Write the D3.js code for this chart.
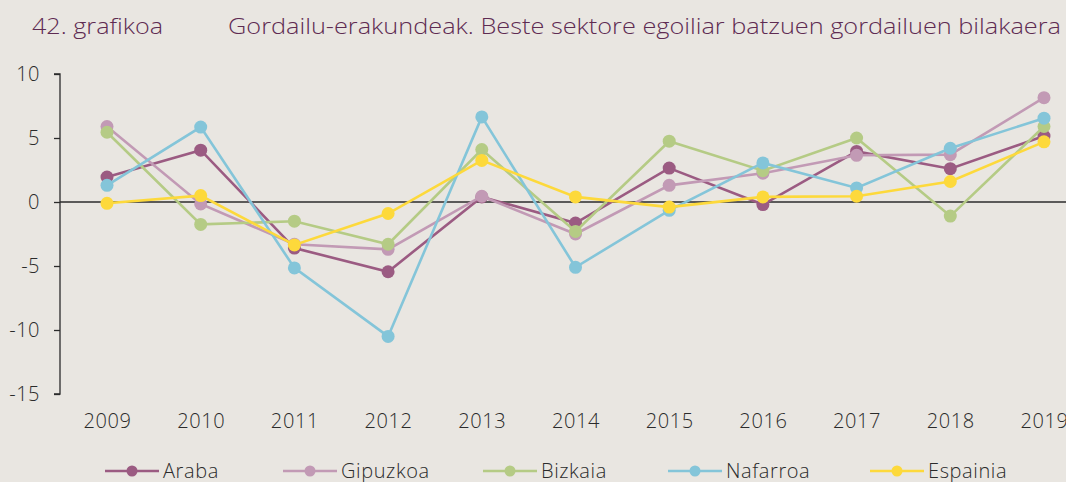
<!DOCTYPE html>
<html>
<head>
<meta charset="utf-8">
<script src="https://cdn.jsdelivr.net/npm/d3@7"></script>
<style>
  html, body { margin: 0; padding: 0; background: #e9e6e1; }
  svg { display: block; }
  text { font-family: "Open Sans", "Lato", sans-serif; font-weight: 300; }
</style>
</head>
<body>
<svg id="chart" width="1066" height="482"></svg>
<script>
// Urteak (x ardatza)
const years = ["2009","2010","2011","2012","2013","2014","2015","2016","2017","2018","2019"];

// Urteko aldakuntza-tasak (%)
const araba    = [1.95, 4.05, -3.6, -5.45, 0.4, -1.65, 2.65, -0.2, 3.95, 2.6, 5.15];
const gipuzkoa = [5.9, -0.15, -3.3, -3.7, 0.45, -2.5, 1.3, 2.25, 3.65, 3.7, 8.15];
const bizkaia  = [5.45, -1.75, -1.5, -3.3, 4.1, -2.3, 4.75, 2.45, 5.0, -1.1, 5.9];
const nafarroa = [1.3, 5.85, -5.15, -10.5, 6.65, -5.1, -0.65, 3.05, 1.1, 4.2, 6.55];
const espainia = [-0.1, 0.5, -3.35, -0.9, 3.25, 0.4, -0.4, 0.4, 0.45, 1.6, 4.7];

const seriesNames = ["Araba", "Gipuzkoa", "Bizkaia", "Nafarroa", "Espainia"];
const seriesValues = [araba, gipuzkoa, bizkaia, nafarroa, espainia];
const seriesColors = ["#9b5b82", "#c29ab5", "#b5cb85", "#84c5d9", "#fdd93b"];

const yTicks = [10, 5, 0, -5, -10, -15];

const titleNumber = "42. grafikoa";
const titleText = "Gordailu-erakundeak. Beste sektore egoiliar batzuen gordailuen bilakaera";

const svg = d3.select("#chart");
const W = 1066;

const x = d3.scalePoint().domain(years).range([107, 1044]);
const y = d3.scaleLinear().domain([-15, 10]).range([394, 74]);

// Izenburua
svg.append("text")
  .attr("x", 32).attr("y", 34)
  .attr("fill", "#5e2b52")
  .style("font-size", "22px")
  .attr("textLength", 131)
  .attr("lengthAdjust", "spacingAndGlyphs")
  .text(titleNumber);
svg.append("text")
  .attr("x", 228).attr("y", 34)
  .attr("fill", "#5e2b52")
  .style("font-size", "22px")
  .attr("textLength", 833)
  .attr("lengthAdjust", "spacingAndGlyphs")
  .text(titleText);

// Y ardatza (marratxo arrunta zeinu negatiborako)
const yAxis = d3.axisLeft(y).tickValues(yTicks).tickSize(6).tickPadding(14)
  .tickFormat(d => String(d));
const gy = svg.append("g").attr("transform", "translate(60,0)").call(yAxis);
gy.select(".domain").attr("stroke", "#2b2b2b").attr("stroke-width", 1.3).attr("d", `M-6,${y(10)}H0V${y(-15)}H-6`);
gy.selectAll(".tick line").attr("stroke", "#2b2b2b").attr("stroke-width", 1.3);
gy.selectAll(".tick text")
  .attr("fill", "#2b2b2b")
  .style("font-size", "20px")
  .style("letter-spacing", "0.5px")
  .style("font-family", "'Open Sans', sans-serif")
  .style("font-weight", 300)
  .attr("dy", "0.34em");

// Zero lerroa
svg.append("line")
  .attr("x1", 60).attr("x2", W)
  .attr("y1", y(0)).attr("y2", y(0))
  .attr("stroke", "#2b2b2b").attr("stroke-width", 1.3);

// X ardatzeko etiketak
const xAxis = d3.axisBottom(x).tickSize(0).tickPadding(0);
const gx = svg.append("g").attr("transform", "translate(0,413)").call(xAxis);
gx.select(".domain").remove();
gx.selectAll(".tick text")
  .attr("fill", "#2b2b2b")
  .style("font-size", "20px")
  .style("letter-spacing", "0.6px")
  .style("font-family", "'Open Sans', sans-serif")
  .style("font-weight", 300)
  .attr("dy", "0.75em");

// Serieak
const line = d3.line().x((d, i) => x(years[i])).y(d => y(d));
seriesValues.forEach((vals, s) => {
  const g = svg.append("g");
  g.append("path")
    .datum(vals)
    .attr("fill", "none")
    .attr("stroke", seriesColors[s])
    .attr("stroke-width", 2.6)
    .attr("d", line);
  g.selectAll("circle")
    .data(vals)
    .join("circle")
    .attr("cx", (d, i) => x(years[i]))
    .attr("cy", d => y(d))
    .attr("r", 6.5)
    .attr("fill", seriesColors[s]);
});

// Legenda
const legendX = [105, 283, 483, 668, 870];
const legendY = 471;
seriesNames.forEach((name, s) => {
  const g = svg.append("g").attr("transform", `translate(${legendX[s]},${legendY})`);
  g.append("line").attr("x1", 0).attr("x2", 54).attr("y1", 0).attr("y2", 0)
    .attr("stroke", seriesColors[s]).attr("stroke-width", 2.6);
  g.append("circle").attr("cx", 27).attr("cy", 0).attr("r", 5.5).attr("fill", seriesColors[s]);
  g.append("text").attr("x", 58).attr("y", 0).attr("dy", "0.36em")
    .attr("fill", "#2b2b2b")
    .style("font-size", "20px")
    .style("letter-spacing", "0.6px")
    .text(name);
});
</script>
</body>
</html>
